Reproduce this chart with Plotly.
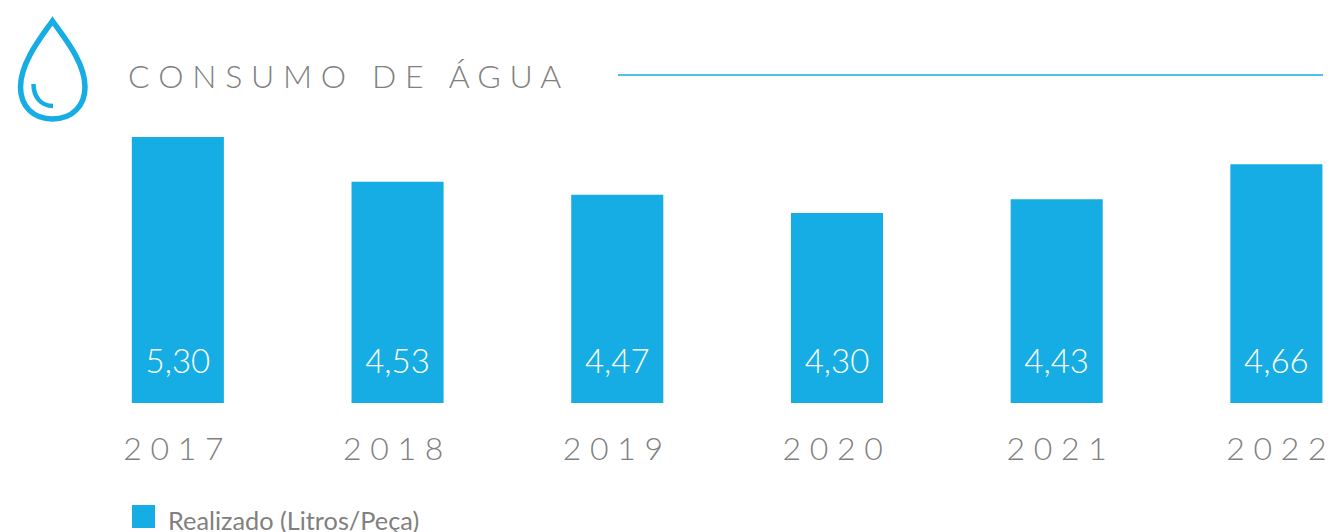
import plotly.graph_objects as go

years = ["2017", "2018", "2019", "2020", "2021", "2022"]
bar_heights = [5.30, 4.71, 4.54, 4.30, 4.48, 4.94]
value_labels = ["5,30", "4,53", "4,47", "4,30", "4,43", "4,66"]
tick_labels = ["2 0 1 7\u00a0", "2 0 1 8\u00a0", "2 0 1 9\u00a0", "2 0 2 0\u00a0", "2 0 2 1", "2 0 2 2"]
title_text = "C O N S U M O \u00a0 D E \u00a0 Á G U A"
legend_text = "Realizado (Litros/Peça)"
label_levels = [2.30, 2.30, 2.30, 2.30, 2.30, 2.30]

W, H = 1330, 532
L, R, T, B = 68, 0, 120, 129
BLUE = "#15ADE4"
GREY = "#808080"
FONT = "Lato Light, Lato, sans-serif"


def px(x):
    return (x - L) / (W - L - R)


def py(y):
    return 1 - (y - T) / (H - T - B)


def to_path(segments):
    out = []
    for cmd, pts in segments:
        out.append(cmd + " ".join(f"{px(x):.5f},{py(y):.5f}" for x, y in pts))
    return " ".join(out)


drop = [("M", [(52.5, 21)]),
        ("C", [(42, 36), (20.5, 62), (20.5, 87)]),
        ("C", [(20.5, 106), (33, 119), (52.5, 119)]),
        ("C", [(72, 119), (85, 106), (85, 87)]),
        ("C", [(85, 62), (63, 36), (52.5, 21)]),
        ]
arc = [("M", [(33.5, 84)]), ("C", [(33.5, 97), (41, 106), (53, 106)])]

fig = go.Figure()
fig.add_bar(x=years, y=bar_heights, width=0.419, marker=dict(color=BLUE, line=dict(width=0)),
            hoverinfo="skip", showlegend=False)
fig.add_scatter(x=years, y=label_levels, mode="text", text=value_labels, textposition="middle center",
                textfont=dict(family=FONT, size=33, color="white"),
                hoverinfo="skip", showlegend=False)

annotations = [
    dict(x=px(126), y=py(75), xref="paper", yref="paper", xanchor="left", yanchor="middle",
         text=title_text, showarrow=False, font=dict(family=FONT, size=32, color=GREY)),
    dict(x=px(166), y=py(520), xref="paper", yref="paper", xanchor="left", yanchor="middle",
         text=legend_text, showarrow=False, font=dict(family="Lato, sans-serif", size=25.3, color=GREY)),
]

shapes = [
    dict(type="line", xref="paper", yref="paper", x0=px(618), x1=px(1323), y0=py(75), y1=py(75),
         line=dict(color=BLUE, width=1.5), layer="above"),
    dict(type="rect", xref="paper", yref="paper", x0=px(132), x1=px(155), y0=py(528), y1=py(505),
         fillcolor=BLUE, line=dict(width=0)),
    dict(type="path", xref="paper", yref="paper", path=to_path(drop) + " Z",
         line=dict(color=BLUE, width=5.5), fillcolor="rgba(0,0,0,0)"),
    dict(type="path", xref="paper", yref="paper", path=to_path(arc),
         line=dict(color=BLUE, width=4.5), fillcolor="rgba(0,0,0,0)"),
]

fig.update_layout(
    width=W, height=H, margin=dict(l=L, r=R, t=T, b=B, pad=0),
    paper_bgcolor="white", plot_bgcolor="white",
    annotations=annotations, shapes=shapes, showlegend=False,
    xaxis=dict(type="category", categoryorder="array", categoryarray=years,
               range=[-0.5, 5.244], tickmode="array", tickvals=years, ticktext=tick_labels,
               showgrid=False, showline=False, zeroline=False, ticks="", ticklen=0,
               ticklabelstandoff=24,
               tickfont=dict(family=FONT, size=32, color=GREY), tickangle=0, automargin=False),
    yaxis=dict(range=[1.8, 5.5237], visible=False, showgrid=False, zeroline=False),
)

fig.write_html("out.html", config=dict(displayModeBar=False),
               post_script="document.body.style.margin='0';")
